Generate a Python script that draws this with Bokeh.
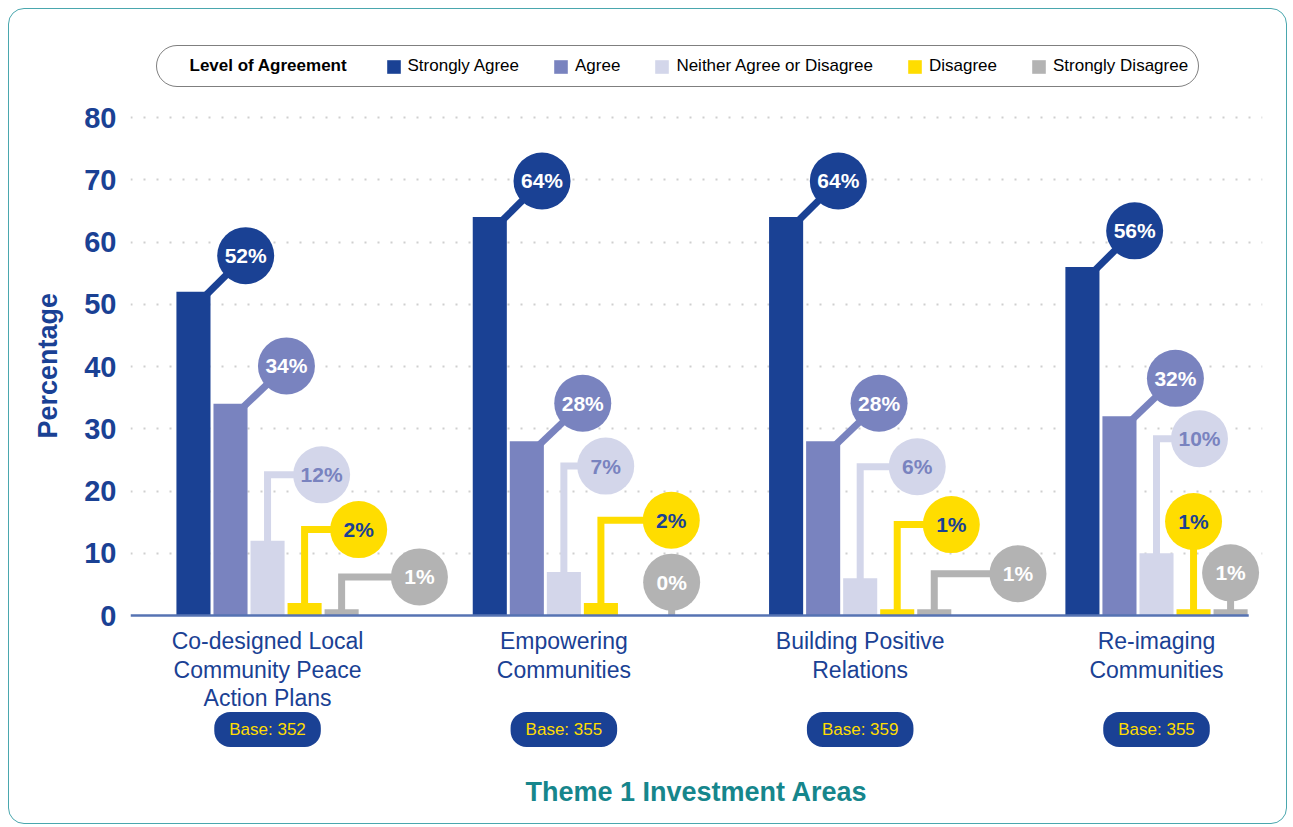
from bokeh.plotting import figure
from bokeh.models import (Range1d, FixedTicker, Legend, LegendItem, Label, Title)
from bokeh.core.properties import value
from bokeh.embed import file_html
from bokeh.resources import INLINE

# ---------------- data ----------------
categories = ["Co-designed Local\nCommunity Peace\nAction Plans",
              "Empowering\nCommunities",
              "Building Positive\nRelations",
              "Re-imaging\nCommunities"]
bases = [352, 355, 359, 355]
series = ["Strongly Agree", "Agree", "Neither Agree or Disagree",
          "Disagree", "Strongly Disagree"]
strongly_agree = [52, 64, 64, 56]
agree = [34, 28, 28, 32]
neither = [12, 7, 6, 10]
disagree = [2, 2, 1, 1]
strongly_disagree = [1, 0, 1, 1]
y_ticks = [0, 10, 20, 30, 40, 50, 60, 70, 80]
legend_title = "Level of Agreement"
y_title = "Percentage"
x_title = "Theme 1 Investment Areas"

values = [strongly_agree, agree, neither, disagree, strongly_disagree]

# ---------------- styles / layout ----------------
bar_colors = ["#1a4194", "#7983bf", "#d3d6ea", "#ffdd00", "#b3b3b3"]
bubble_text = ["#ffffff", "#ffffff", "#7983bf", "#1a4194", "#ffffff"]
BLUE = "#1a4194"
TEAL = "#16868c"
FONT = "Liberation Sans"

GROUP_STEP = 8      # slots between group centres
BAR_W = 0.92        # bar width in slots

diag_offset = {0: (0.95, 5.8), 1: (1.05, 6.1)}
callout_kind = {2: ["elbow", "elbow", "elbow", "elbow"],
                3: ["elbow", "elbow", "elbow", "stem"],
                4: ["elbow", "stem", "elbow", "stem"]}
callout_dx = {2: [1.46, 1.13, 1.54, 1.16],
              3: [1.46, 1.90, 1.46, 0.0],
              4: [2.10, 0.91, 2.26, 0.0]}
callout_y = {2: [22.6, 24.0, 23.9, 28.4],
             3: [13.8, 15.3, 14.6, 15.1],
             4: [6.2, 5.35, 6.7, 6.85]}

# canvas geometry (px)
W, H = 1279, 816
B_LEFT, B_RIGHT = 121, 26
FRAME_H = 755
B_BOTTOM = H - FRAME_H
ZERO_PX, TOP80_PX = 606, 108          # canvas y of 0 and of 80
PX_Y = (ZERO_PX - TOP80_PX) / 80.0
Y_END = 80 + TOP80_PX / PX_Y
Y_START = -(FRAME_H - ZERO_PX) / PX_Y
PX_X = 37.04
X_START = -3.70
X_END = X_START + (W - B_LEFT - B_RIGHT) / PX_X
AXIS_END = 26.49                       # where the zero line stops

CAT_Y = -2.05       # top of category labels
PILL_Y = -18.3      # centre of base pills
LEG_LEFT, LEG_TOP, LEG_H = 26, 38, 40
LEG_PAD, LEG_GLYPH, LEG_STANDOFF = 10, 17, 6
YTITLE_START = 429  # canvas y where the rotated y title starts
HEADING_SLOT = "\u2003" * 9 + "\u2002"   # blank legend label reserving room for the heading

p = figure(width=W, height=H, title=None,
           x_range=Range1d(X_START, X_END), y_range=Range1d(Y_START, Y_END),
           output_backend="svg", toolbar_location=None,
           min_border_left=B_LEFT, min_border_right=B_RIGHT,
           min_border_top=0, min_border_bottom=B_BOTTOM)
p.styles = {"border": "1px solid #4aa7ae", "border-radius": "16px",
            "margin": "8px 0 0 8px"}
p.border_fill_color = None
p.outline_line_color = None
p.background_fill_color = "white"

# y axis
p.yaxis.ticker = FixedTicker(ticks=y_ticks)
p.yaxis.axis_line_color = None
p.yaxis.major_tick_line_color = None
p.yaxis.minor_tick_line_color = None
p.yaxis.major_tick_out = 0
p.yaxis.major_tick_in = 0
p.yaxis.minor_tick_out = 0
p.yaxis.major_label_text_font = FONT
p.yaxis.major_label_text_font_style = "bold"
p.yaxis.major_label_text_font_size = "29px"
p.yaxis.major_label_text_color = BLUE
p.yaxis.major_label_standoff = 14

tprops = Title.properties()
tkw = dict(text=y_title, align="left", text_font=FONT, text_font_style="bold",
           text_font_size="27px", text_color=BLUE)
if "offset" in tprops:
    tkw["offset"] = FRAME_H - YTITLE_START
if "standoff" in tprops:
    tkw["standoff"] = 38
p.add_layout(Title(**tkw), "left")

# x axis (title only; category names drawn below the zero line)
p.xaxis.ticker = FixedTicker(ticks=[])
p.xaxis.axis_line_color = None
p.xaxis.major_tick_line_color = None
p.xaxis.minor_tick_line_color = None
p.xaxis.major_tick_out = 0
p.xaxis.major_label_text_font_size = "0px"
p.xaxis.major_label_standoff = 0
p.xaxis.axis_label = x_title
p.xaxis.axis_label_text_font = FONT
p.xaxis.axis_label_text_font_style = "bold"
p.xaxis.axis_label_text_font_size = "27px"
p.xaxis.axis_label_text_color = TEAL
p.xaxis.axis_label_standoff = 12

p.xgrid.visible = False
p.ygrid.ticker = FixedTicker(ticks=y_ticks[1:])
p.ygrid.grid_line_color = "#cfcfcf"
p.ygrid.grid_line_width = 2
p.ygrid.grid_line_dash = "2 11"

group_centers = [GROUP_STEP * i for i in range(len(categories))]

# connectors (drawn first so bars cover their start)
for j, vals in enumerate(values):
    xs_l, ys_l, cx, cy = [], [], [], []
    for i, v in enumerate(vals):
        bx = group_centers[i] + (j - 2)
        if j in diag_offset:
            dxr, dy = diag_offset[j]
            x1 = bx + BAR_W / 2 + dxr
            y1 = v + dy
            xs_l.append([bx + BAR_W / 2 - 0.2, x1])
            ys_l.append([v - 1.0, y1])
        else:
            kind = callout_kind[j][i]
            x1 = bx + callout_dx[j][i]
            y1 = callout_y[j][i]
            if kind == "elbow":
                xs_l.append([bx, bx, x1])
                ys_l.append([v - 0.3, y1, y1])
            else:
                xs_l.append([x1, x1])
                ys_l.append([max(v - 0.3, 0), y1])
        cx.append(x1)
        cy.append(y1)
    p.multi_line(xs=xs_l, ys=ys_l, line_color=bar_colors[j], line_width=7,
                 line_join="miter", line_cap="butt")
    p.scatter(x=cx, y=cy, size=57, marker="circle", fill_color=bar_colors[j],
              line_color=None)
    p.text(x=cx, y=cy, text=[f"{v}%" for v in vals], text_align="center",
           text_baseline="middle", text_font=value(FONT), text_font_style="bold",
           text_font_size="21px", text_color=bubble_text[j])

# bars
renderers = []
for j, vals in enumerate(values):
    xs = [group_centers[i] + (j - 2) for i in range(len(vals))]
    r = p.vbar(x=xs, top=vals, width=BAR_W, fill_color=bar_colors[j], line_color=None)
    renderers.append(r)

# zero line
p.segment(x0=[X_START], y0=[0], x1=[AXIS_END], y1=[0], line_color="#5673b3",
          line_width=2.5)

# category names
p.text(x=group_centers, y=[CAT_Y] * len(categories), text=categories,
       text_align="center", text_baseline="top", text_font=value(FONT),
       text_font_size="23px", text_color=BLUE, text_line_height=1.1)

# base pills
lprops = Label.properties()
for i, b in enumerate(bases):
    kw = dict(x=group_centers[i], y=PILL_Y, text=f"Base: {b}", text_align="center",
              text_baseline="middle", text_font=FONT, text_font_size="17px",
              text_color="#ffdd00", background_fill_color=BLUE)
    if "padding" in lprops:
        kw["padding"] = dict(left=15, right=15, top=8, bottom=8)
    if "border_radius" in lprops:
        kw["border_radius"] = 16
    p.add_layout(Label(**kw))

# bold legend heading (sits in the blank first legend slot)
hx = X_START + (LEG_LEFT + LEG_PAD + LEG_GLYPH + LEG_STANDOFF) / PX_X
hy = Y_END - (LEG_TOP + LEG_H / 2 - 2) / PX_Y
p.add_layout(Label(x=hx, y=hy, text=legend_title, text_align="left",
                   text_baseline="middle", text_font=FONT, text_font_style="bold",
                   text_font_size="17px", text_color="black"))

# legend (transparent fill so the heading shows through)
dummy = p.vbar(x=[], top=[], width=BAR_W, fill_alpha=0, line_alpha=0)
items = [LegendItem(label=HEADING_SLOT, renderers=[dummy])]
items += [LegendItem(label=s, renderers=[r]) for s, r in zip(series, renderers)]
legend = Legend(items=items, orientation="horizontal",
                location=(LEG_LEFT, FRAME_H - LEG_TOP - LEG_H),
                label_text_font=FONT, label_text_font_size="17px",
                label_text_color="black",
                glyph_width=LEG_GLYPH, glyph_height=LEG_GLYPH,
                label_standoff=LEG_STANDOFF, spacing=33,
                padding=LEG_PAD, border_line_color="black", border_line_width=1.5,
                border_radius=22,
                background_fill_color="white", background_fill_alpha=0.0)
p.add_layout(legend)

open("out.html", "w").write(file_html(p, INLINE))
